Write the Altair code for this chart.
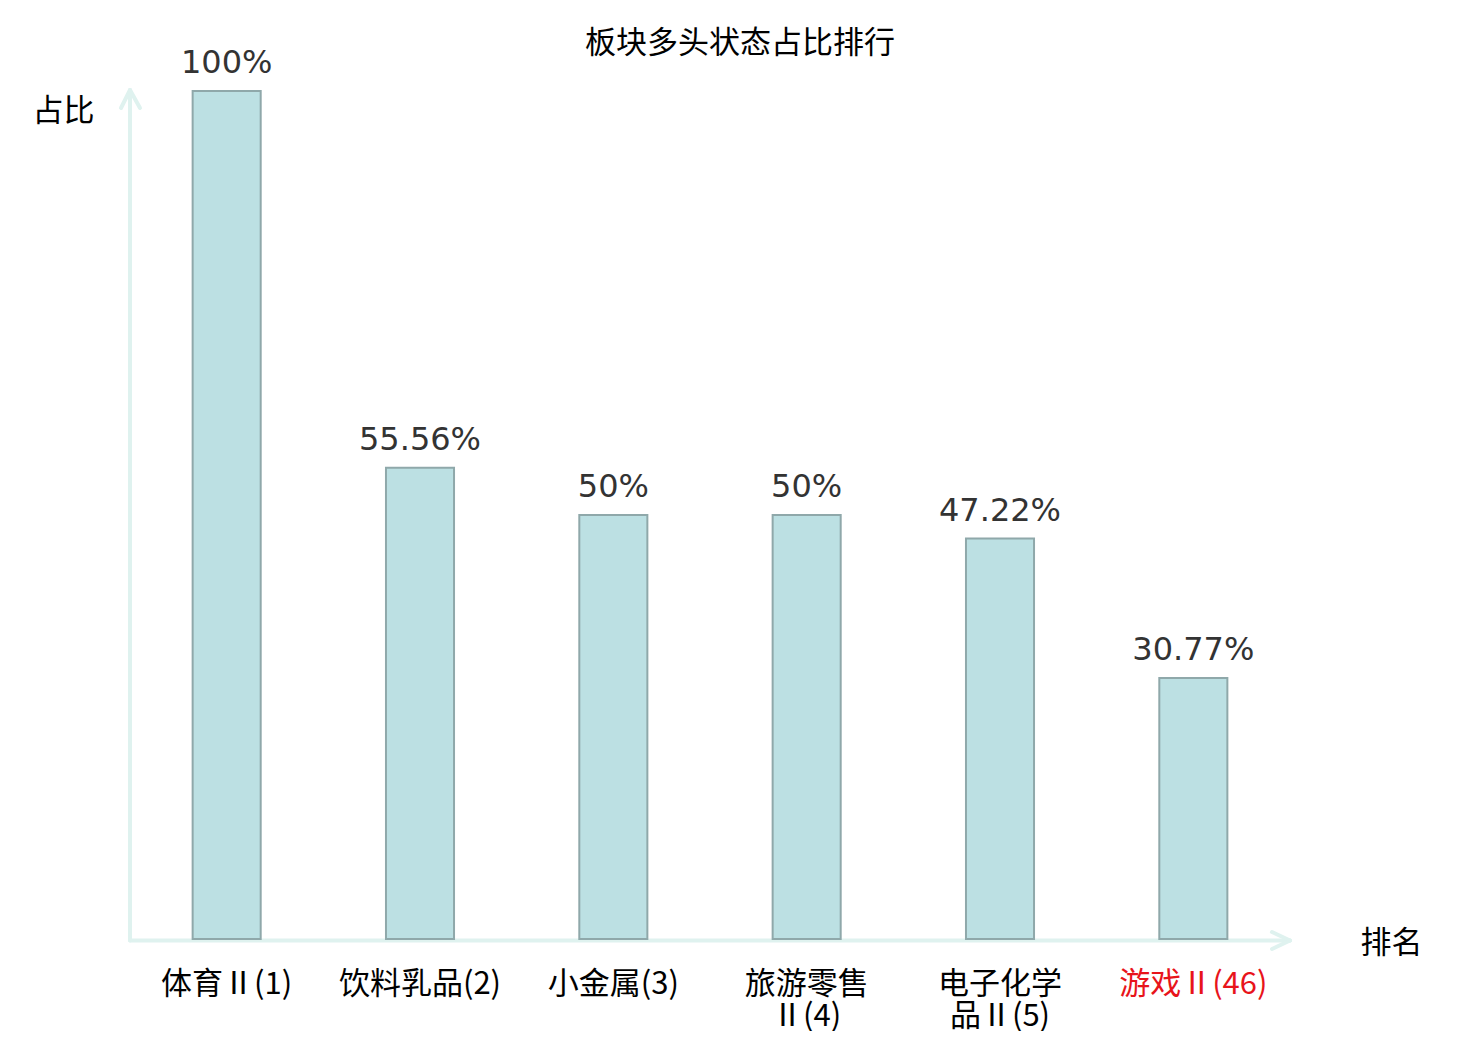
import altair as alt
import pandas as pd

categories = ["体育Ⅱ(1)", "饮料乳品(2)", "小金属(3)", "旅游零售\nⅡ(4)", "电子化学\n品Ⅱ(5)", "游戏Ⅱ(46)"]
values = [100, 55.56, 50, 50, 47.22, 30.77]
highlight = "游戏Ⅱ(46)"

df = pd.DataFrame({"cat": categories, "v": values})

W, H = 1160, 848
AX = "#dff2ef"
CJK = "Noto Sans CJK SC"

x = alt.X(
    "cat:N",
    sort=categories,
    scale=alt.Scale(paddingInner=0.648, paddingOuter=0.324),
    axis=alt.Axis(
        title="排名",
        titleX=1261,
        titleY=4,
        titleAlign="center",
        titleBaseline="middle",
        titleFont=CJK,
        titleFontSize=31,
        titleFontWeight="normal",
        titleColor="#000000",
        domain=False,
        ticks=False,
        labelAngle=0,
        labelFont=CJK,
        labelFontSize=31,
        labelLineHeight=32,
        labelPadding=30,
        labelExpr="split(datum.label, '\\n')",
        labelColor={"condition": {"test": f"datum.value == '{highlight}'", "value": "#e8141b"}, "value": "#000000"},
    ),
)
y = alt.Y(
    "v:Q",
    scale=alt.Scale(domain=[0, 100], nice=False),
    axis=alt.Axis(
        title="占比",
        titleAngle=0,
        titleX=-67,
        titleY=20,
        titleAlign="center",
        titleBaseline="middle",
        titleFont=CJK,
        titleFontSize=31,
        titleFontWeight="normal",
        titleColor="#000000",
        labels=False,
        ticks=False,
        domain=False,
        grid=False,
    ),
)

bars = alt.Chart(df).mark_bar(
    fill="#bce0e3", stroke="#8fa8aa", strokeWidth=2
).encode(x=x, y=y)

text = alt.Chart(df).transform_calculate(
    lab="format(datum.v, '.2~f') + '%'"
).mark_text(
    font="DejaVu Sans", fontSize=32, color="#333333", baseline="alphabetic", dy=-18
).encode(x=alt.X("cat:N", sort=categories), y="v:Q", text="lab:N")

def seg(x1, y1, x2, y2):
    return alt.Chart(df.head(1)).mark_rule(
        color=AX, strokeWidth=4, strokeCap="round", clip=False
    ).encode(x=alt.value(x1), y=alt.value(y1), x2=alt.value(x2), y2=alt.value(y2))

arrows = [
    seg(0, H + 1.5, 1160, H + 1.5),
    seg(1160, H + 1.5, 1142, H - 7),
    seg(1160, H + 1.5, 1142, H + 10),
    seg(0, H + 1.5, 0, -1),
    seg(0, -1, -9, 17),
    seg(0, -1, 10, 17),
]

chart = alt.layer(*arrows, bars, text).properties(
    width=W,
    height=H,
    title=alt.TitleParams(
        "板块多头状态占比排行",
        font=CJK,
        fontSize=31,
        fontWeight="normal",
        color="#000000",
        anchor="middle",
        offset=34,
        dx=30,
        dy=47,
    ),
    autosize=alt.AutoSizeParams(type="none"),
    padding={"left": 122, "top": 83, "right": 180, "bottom": 92},
).configure_view(stroke=None)

chart.save("out.html", embed_options={"renderer": "svg", "actions": False})
